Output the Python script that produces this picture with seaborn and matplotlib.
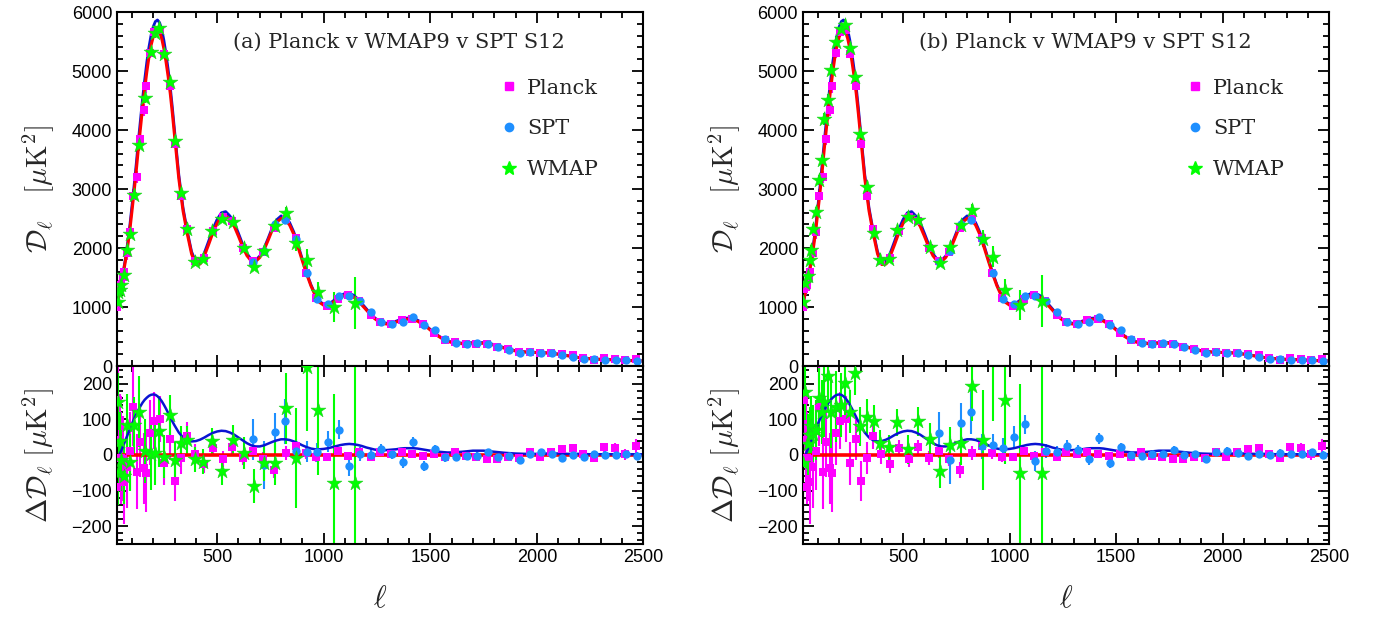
import numpy as np
import pandas as pd
import seaborn as sns
import matplotlib.pyplot as plt
from matplotlib.lines import Line2D
from matplotlib.ticker import MultipleLocator

# ---- theory curves ----
ell_th = list(range(30, 301, 10)) + list(range(320, 1601, 20)) + list(range(1650, 2501, 50))
# Planck best fit D_l (red)
dl_th = [1060, 1220, 1390, 1580, 1790, 2030, 2300, 2620, 2950, 3300,
         3680, 4030, 4380, 4700, 4990, 5240, 5440, 5580, 5670, 5700,
         5660, 5550, 5380, 5160, 4910, 4620, 4280, 3910,
         3180, 2630, 2240, 1900, 1720, 1730, 1870, 2060, 2260, 2420,
         2530, 2550, 2480, 2370, 2200, 2020, 1870, 1780, 1770, 1840,
         1970, 2140, 2320, 2440, 2500, 2480, 2390, 2230, 2010, 1780,
         1560, 1360, 1200, 1080, 1030, 1030, 1070, 1120, 1170, 1200,
         1200, 1170, 1110, 1030, 950, 870, 800, 750, 720, 710,
         720, 745, 770, 790, 795, 785, 760, 720, 670, 610,
         550, 500, 455, 420, 400,
         378, 385, 385, 355, 300, 255, 235, 228, 220, 200,
         170, 140, 122, 112, 106, 98, 90, 84]
# WMAP+SPT best fit minus Planck best fit (blue)
diff_th = [-15, -2, 12, 27, 42, 57, 72, 87, 101, 114,
           126, 137, 147, 155, 161, 166, 169, 170, 169, 165,
           159, 151, 141, 130, 118, 106, 94, 83,
           63, 49, 41, 38, 39, 43, 49, 56, 62, 66,
           68, 67, 63, 57, 49, 41, 33, 27, 24, 24,
           27, 32, 37, 41, 44, 44, 42, 38, 33, 27,
           22, 18, 16, 16, 17, 19, 22, 25, 28, 30,
           31, 30, 28, 25, 21, 18, 15, 14, 13, 14,
           15, 16, 18, 19, 19, 19, 18, 16, 14, 12,
           10, 9, 8, 7, 7,
           9, 12, 12, 9, 6, 4, 3, 3, 4, 4,
           3, 3, 2, 2, 2, 2, 2, 2]

# ---- Planck binned points ----
planck_ell = [32, 36, 45, 50, 57, 65, 78, 90, 107, 122,
              138, 155, 168, 185, 202, 233, 252, 278, 302, 330,
              358, 395, 438, 480, 526, 570, 622, 669, 716, 768,
              821, 868, 919, 966, 1016, 1065, 1115, 1165, 1220, 1266,
              1316, 1365, 1415, 1466, 1516, 1568, 1618, 1669, 1716, 1766,
              1815, 1867, 1917, 1967, 2016, 2066, 2118, 2169, 2218, 2267,
              2317, 2367, 2416, 2466]
planck_dl = [1000, 1310, 1340, 1380, 1505, 1595, 1915, 2270, 2890, 3200,
             3840, 4340, 4740, 5310, 5660, 5700, 5280, 4750, 3760, 2890,
             2330, 1780, 1830, 2280, 2530, 2450, 2000, 1780, 1930, 2340,
             2490, 2170, 1575, 1150, 1025, 1140, 1200, 1100, 865, 750,
             720, 780, 790, 705, 565, 435, 400, 380, 380, 365,
             330, 280, 240, 240, 220, 225, 205, 180, 135, 110,
             130, 123, 98, 114]
planck_res = [-89, 154, 42, -9, -10, -75, -35, 12, 136, -47,
              37, -37, -50, 63, 96, 101, -23, 45, -72, -8,
              54, 3, -26, 19, -12, 23, -9, 11, -12, -42,
              5, 25, 5, -7, -7, 11, -3, 7, -7, 9,
              3, 7, 3, -3, 3, -5, 9, -2, -5, -12,
              -12, -5, -8, 8, -5, 9, 16, 19, 2, -8,
              21, 19, 2, 26]
planck_err = [150, 140, 130, 130, 120, 120, 115, 110, 110, 105,
              100, 100, 110, 90, 80, 65, 60, 58, 56, 45,
              38, 28, 25, 22, 22, 20, 20, 20, 20, 22,
              20, 18, 15, 12, 10, 9, 8, 8, 8, 8,
              8, 8, 8, 8, 8, 8, 8, 8, 8, 8,
              8, 8, 8, 8, 8, 8, 9, 9, 9, 10,
              12, 14, 16, 20]

# ---- SPT S12 points ----
spt_ell = list(range(670, 2471, 50))
spt_dl = [1770, 1950, 2400, 2480, 2150, 1570, 1130, 1050, 1190, 1180,
          1110, 920, 750, 710, 740, 830, 700, 610, 465, 385,
          375, 385, 380, 325, 265, 225, 235, 225, 215, 180,
          158, 120, 113, 105, 106, 96, 88]
spt_res_a = [44, -28, 64, 94, 11, 9, 7, 37, 71, -31,
             2, 0, 16, 3, -21, 36, -31, 17, -7, -7,
             -2, -3, 8, -5, -3, -15, 4, 7, 2, -8,
             0, -5, 2, 0, 0, 4, -3]
spt_res_b = [63, -14, 91, 122, 25, 28, 19, 50, 86, -17,
             12, 8, 25, 14, -12, 47, -22, 23, 0, -3,
             3, 2, 14, 0, 2, -10, 8, 11, 6, -4,
             4, -1, 6, 4, 4, 8, 1]
spt_err = [58, 68, 54, 62, 35, 30, 28, 30, 27, 28,
           20, 18, 16, 15, 15, 15, 15, 12, 12, 10,
           10, 10, 10, 10, 10, 10, 10, 10, 10, 10,
           10, 10, 10, 10, 10, 10, 10]

# ---- WMAP9 points, panel (a) ----
wmap_ell_a = [33, 36, 42, 50, 62, 75, 90, 109, 133, 160,
              188, 210, 227, 252, 278, 302, 330, 358, 395, 434,
              478, 525, 575, 624, 673, 720, 771, 821, 872, 922,
              974, 1047, 1149]
wmap_dl_a = [1260, 1080, 1290, 1375, 1550, 1960, 2240, 2900, 3740, 4550,
             5330, 5650, 5730, 5295, 4810, 3820, 2935, 2320, 1770, 1810,
             2280, 2500, 2440, 1995, 1680, 1950, 2370, 2600, 2090, 1800,
             1250, 1000, 1065]
wmap_res_a = [150, -50, 40, -15, -58, 85, -20, 84, 122, 10,
              3, 5, 66, -5, 112, -14, 35, 42, -12, -19,
              39, -44, 42, 5, -87, -22, -23, 131, -9, 246,
              125, -78, -78]
wmap_err_a = [80, 90, 80, 85, 80, 85, 80, 80, 100, 90,
              100, 90, 100, 60, 56, 50, 45, 40, 35, 35,
              38, 40, 42, 45, 47, 50, 60, 100, 140, 180,
              180, 250, 440]

# ---- WMAP9 points, panel (b) ----
wmap_ell_b = [32, 40, 52, 63, 67, 78, 91, 106, 117, 130,
              146, 162, 186, 207, 227, 250, 273, 297, 329, 363,
              391, 434, 473, 525, 572, 624, 674, 721, 771, 823,
              874, 924, 976, 1050, 1150]
wmap_dl_b = [1090, 1400, 1520, 1800, 1960, 2330, 2610, 3150, 3490, 4190,
             4510, 5020, 5500, 5720, 5780, 5390, 4900, 3940, 3040, 2250,
             1790, 1820, 2300, 2530, 2470, 2020, 1740, 2020, 2390, 2640,
             2160, 1850, 1290, 1030, 1100]
wmap_res_b = [-23, 178, 30, 56, 80, 60, 70, 159, 120, 150,
              222, 120, 136, 140, 201, 122, 229, 80, 108, 96,
              33, 22, 92, 16, 94, 44, -45, 28, 33, 194,
              42, 275, 155, -51, -51]
wmap_err_b = [90, 80, 85, 80, 85, 80, 85, 85, 90, 100,
              100, 100, 100, 90, 100, 60, 60, 56, 50, 45,
              38, 35, 38, 40, 42, 45, 47, 50, 60, 100,
              140, 180, 180, 250, 440]

MAG = '#ff00ff'
SPTC = '#1e8fff'
GRN = '#00ff00'
BLU = '#0a14d2'
RED = '#ff0000'

sns.set_style('ticks')
plt.rcParams['mathtext.fontset'] = 'cm'
plt.rcParams['font.family'] = ['Liberation Sans', 'DejaVu Sans']

blue_top = np.array(dl_th) + np.array(diff_th)

fig = plt.figure(figsize=(13.78, 6.19), dpi=100)


def style_axes(ax, ymaj, ymin):
    ax.xaxis.set_major_locator(MultipleLocator(500))
    ax.xaxis.set_minor_locator(MultipleLocator(100))
    ax.yaxis.set_major_locator(MultipleLocator(ymaj))
    ax.yaxis.set_minor_locator(MultipleLocator(ymin))
    ax.tick_params(which='both', direction='in', top=True, right=True,
                   width=1.3, colors='black', labelsize=13)
    ax.tick_params(which='major', length=8)
    ax.tick_params(which='minor', length=4)
    for s in ax.spines.values():
        s.set_linewidth(1.5)
        s.set_color('black')


def draw_panel(left, tag, w_ell, w_dl, w_res, w_err, s_res):
    ax1 = fig.add_axes([left, 0.4087, 0.3820, 0.5719])
    ax2 = fig.add_axes([left, 0.1212, 0.3820, 0.2876])

    # top: spectra
    sns.lineplot(x=ell_th, y=blue_top, color=BLU, linewidth=2, ax=ax1, zorder=2)
    sns.lineplot(x=ell_th, y=dl_th, color=RED, linewidth=2.2, ax=ax1, zorder=2.2)
    ax1.errorbar(planck_ell, planck_dl, yerr=planck_err, fmt='none', ecolor=MAG,
                 elinewidth=1.5, zorder=1.5)
    ax1.errorbar(spt_ell, spt_dl, yerr=spt_err, fmt='none', ecolor=SPTC,
                 elinewidth=1.5, zorder=1.5)
    ax1.errorbar(w_ell, w_dl, yerr=w_err, fmt='none', ecolor=GRN,
                 elinewidth=1.5, zorder=1.6)
    sns.scatterplot(x=planck_ell, y=planck_dl, marker='s', s=32, color=MAG,
                    linewidth=0, ax=ax1, zorder=3)
    sns.scatterplot(x=spt_ell, y=spt_dl, marker='o', s=36, color=SPTC,
                    linewidth=0, ax=ax1, zorder=3.2)
    sns.scatterplot(x=w_ell, y=w_dl, marker='*', s=125, color=GRN,
                    edgecolor='#22cc22', linewidth=0.4, ax=ax1, zorder=3.4)

    # bottom: residuals
    ax2.axhline(0, color=RED, linewidth=2.6, zorder=2.2)
    sns.lineplot(x=ell_th, y=diff_th, color=BLU, linewidth=1.8, ax=ax2, zorder=2.3)
    ax2.errorbar(planck_ell, planck_res, yerr=planck_err, fmt='none', ecolor=MAG,
                 elinewidth=1.5, zorder=1.5)
    ax2.errorbar(spt_ell, s_res, yerr=spt_err, fmt='none', ecolor=SPTC,
                 elinewidth=1.5, zorder=1.5)
    ax2.errorbar(w_ell, w_res, yerr=w_err, fmt='none', ecolor=GRN,
                 elinewidth=1.5, zorder=1.6)
    sns.scatterplot(x=planck_ell, y=planck_res, marker='s', s=32, color=MAG,
                    linewidth=0, ax=ax2, zorder=3)
    sns.scatterplot(x=spt_ell, y=s_res, marker='o', s=36, color=SPTC,
                    linewidth=0, ax=ax2, zorder=3.2)
    sns.scatterplot(x=w_ell, y=w_res, marker='*', s=125, color=GRN,
                    edgecolor='#22cc22', linewidth=0.4, ax=ax2, zorder=3.4)

    for ax in (ax1, ax2):
        ax.set_xlim(30, 2500)
    ax1.set_ylim(0, 6000)
    ax2.set_ylim(-250, 250)
    style_axes(ax1, 1000, 200)
    style_axes(ax2, 100, 20)
    ax1.tick_params(labelbottom=False)
    ax1.set_xlabel('')

    ax1.set_ylabel(r'$\mathcal{D}_\ell\ \ \ [\mu{\rm K}^2]$', fontsize=21)
    ax1.yaxis.set_label_coords(-0.115, 0.5)
    ax2.set_ylabel(r'$\Delta\mathcal{D}_\ell\ [\mu{\rm K}^2]$', fontsize=21)
    ax2.yaxis.set_label_coords(-0.115, 0.5)
    ax2.set_xlabel(r'$\ell$', fontsize=22)
    ax2.xaxis.set_label_coords(0.5, -0.31)
    ax2.xaxis.label.set_va('center')

    ax1.text(0.22, 0.915, tag + ' Planck v WMAP9 v SPT S12', transform=ax1.transAxes,
             family='DejaVu Serif', fontsize=15, va='center', ha='left')

    handles = [Line2D([], [], ls='none', marker='s', ms=6, color=MAG),
               Line2D([], [], ls='none', marker='o', ms=6, color=SPTC),
               Line2D([], [], ls='none', marker='*', ms=10, color=GRN)]
    ax1.legend(handles, ['Planck', 'SPT', 'WMAP'], loc='upper left',
               bbox_to_anchor=(0.69, 0.865), frameon=False,
               prop={'family': 'DejaVu Serif', 'size': 15},
               handlelength=1.0, handletextpad=0.35, labelspacing=1.05)


draw_panel(0.0849, '(a)', wmap_ell_a, wmap_dl_a, wmap_res_a, wmap_err_a, spt_res_a)
draw_panel(0.5827, '(b)', wmap_ell_b, wmap_dl_b, wmap_res_b, wmap_err_b, spt_res_b)

fig.savefig('out.png', dpi=100)
